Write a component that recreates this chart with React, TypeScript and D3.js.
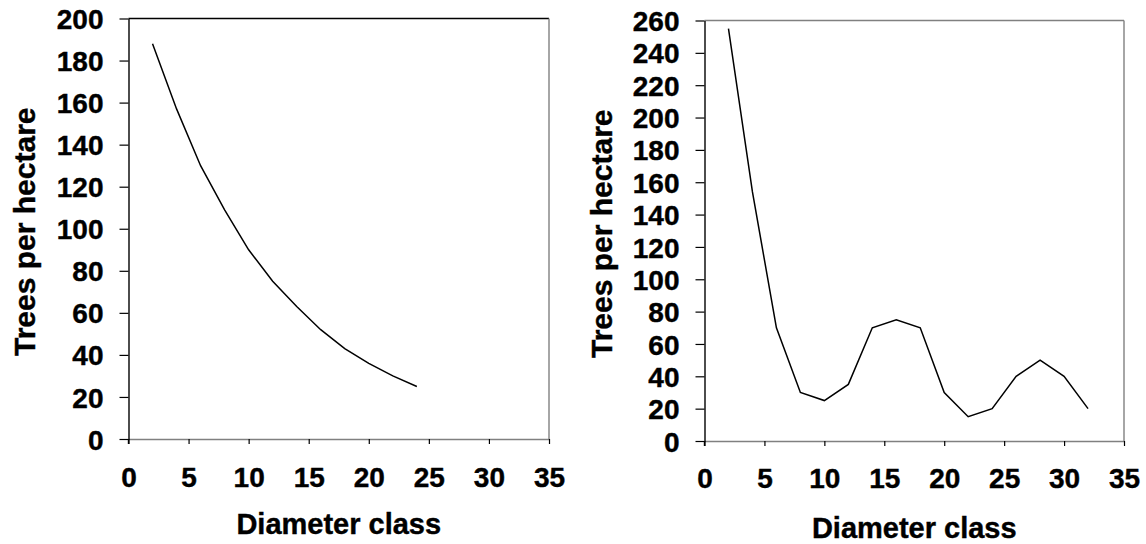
import React, { useRef, useEffect } from "react";
import { select, axisBottom, axisLeft, scaleLinear, line } from "d3";

// diameter classes (cm) and trees per hectare
const leftClasses = [2, 4, 6, 8, 10, 12, 14, 16, 18, 20, 22, 24];
const leftTrees = [188, 157, 130, 109, 90, 75, 63, 52, 43, 36, 30, 25];

const rightClasses = [2, 4, 6, 8, 10, 12, 14, 16, 18, 20, 22, 24, 26, 28, 30, 32];
const rightTrees = [255, 154, 70, 30, 25, 35, 70, 75, 70, 30, 15, 20, 40, 50, 40, 20];

const xTicks = [0, 5, 10, 15, 20, 25, 30, 35];
const leftYTicks = [0, 20, 40, 60, 80, 100, 120, 140, 160, 180, 200];
const rightYTicks = [0, 20, 40, 60, 80, 100, 120, 140, 160, 180, 200, 220, 240, 260];

const xTitle = "Diameter class";
const yTitle = "Trees per hectare";

const FONT = "'Liberation Sans', Arial, Helvetica, sans-serif";

function Panel({ xs, ys, yTicks, box, xLabelPad, xTitleY, yTitleX, topColor }) {
  const ref = useRef(null);

  useEffect(() => {
    const g = select(ref.current);
    g.selectAll("*").remove();
    const { left, right, top, bottom } = box;

    const xScale = scaleLinear().domain([0, 35]).range([left, right]);
    const yScale = scaleLinear().domain([0, yTicks[yTicks.length - 1]]).range([bottom, top]);

    // frame (top + right edges)
    g.append("line").attr("x1", left).attr("x2", right).attr("y1", top).attr("y2", top)
      .attr("stroke", topColor).attr("stroke-width", 1.4);
    g.append("line").attr("x1", right).attr("x2", right).attr("y1", top).attr("y2", bottom)
      .attr("stroke", "#808080").attr("stroke-width", 1.4);

    // x axis
    const xAxis = axisBottom(xScale).tickValues(xTicks).tickSize(5).tickSizeOuter(0).tickPadding(xLabelPad);
    const xg = g.append("g").attr("transform", `translate(0,${bottom})`).call(xAxis);
    xg.select(".domain").attr("stroke", "#808080").attr("stroke-width", 1.4);
    xg.selectAll(".tick line").attr("stroke", "#000").attr("stroke-width", 1.2);
    xg.selectAll("text").attr("font-family", FONT).attr("font-size", 28).attr("font-weight", "bold")
      .attr("fill", "#000").attr("stroke", "#000").attr("stroke-width", 0.4);

    // y axis
    const yAxis = axisLeft(yScale).tickValues(yTicks).tickSize(9).tickSizeOuter(0).tickPadding(16);
    const yg = g.append("g").attr("transform", `translate(${left},0)`).call(yAxis);
    yg.select(".domain").attr("stroke", "#000").attr("stroke-width", 1.4);
    yg.selectAll(".tick line").attr("stroke", "#000").attr("stroke-width", 1.2);
    yg.selectAll("text").attr("font-family", FONT).attr("font-size", 28).attr("font-weight", "bold")
      .attr("fill", "#000").attr("stroke", "#000").attr("stroke-width", 0.4).attr("dy", "0.36em");
    // left axis runs a little past the x axis
    g.append("line").attr("x1", left).attr("x2", left).attr("y1", bottom).attr("y2", bottom + 5)
      .attr("stroke", "#000").attr("stroke-width", 1.4);

    // data line
    const pts = xs.map((x, i) => [x, ys[i]]);
    const path = line().x((d) => xScale(d[0])).y((d) => yScale(d[1]));
    g.append("path").datum(pts).attr("d", path).attr("fill", "none").attr("stroke", "#000").attr("stroke-width", 1.5);

    // titles
    g.append("text").attr("x", (left + right) / 2).attr("y", xTitleY).attr("text-anchor", "middle")
      .attr("font-family", FONT).attr("font-size", 29).attr("font-weight", "bold")
      .attr("stroke", "#000").attr("stroke-width", 0.4).text(xTitle);
    g.append("text").attr("transform", `translate(${yTitleX},${(top + bottom) / 2 + 3}) rotate(-90)`)
      .attr("text-anchor", "middle").attr("font-family", FONT).attr("font-size", 30).attr("font-weight", "bold")
      .attr("stroke", "#000").attr("stroke-width", 0.4).text(yTitle);
  }, [xs, ys, yTicks]);

  return <g ref={ref} />;
}

export default function App() {
  return (
    <svg width={1146} height={544} style={{ position: "absolute", left: 0, top: 0, background: "#fff" }}>
      <Panel
        xs={leftClasses}
        ys={leftTrees}
        yTicks={leftYTicks}
        box={{ left: 128.5, right: 549, top: 18.5, bottom: 439 }}
        xLabelPad={23}
        xTitleY={533.5}
        yTitleX={35}
        topColor="#000"
      />
      <Panel
        xs={rightClasses}
        ys={rightTrees}
        yTicks={rightYTicks}
        box={{ left: 704.5, right: 1124, top: 20.5, bottom: 441 }}
        xLabelPad={22}
        xTitleY={537.5}
        yTitleX={612}
        topColor="#808080"
      />
    </svg>
  );
}
